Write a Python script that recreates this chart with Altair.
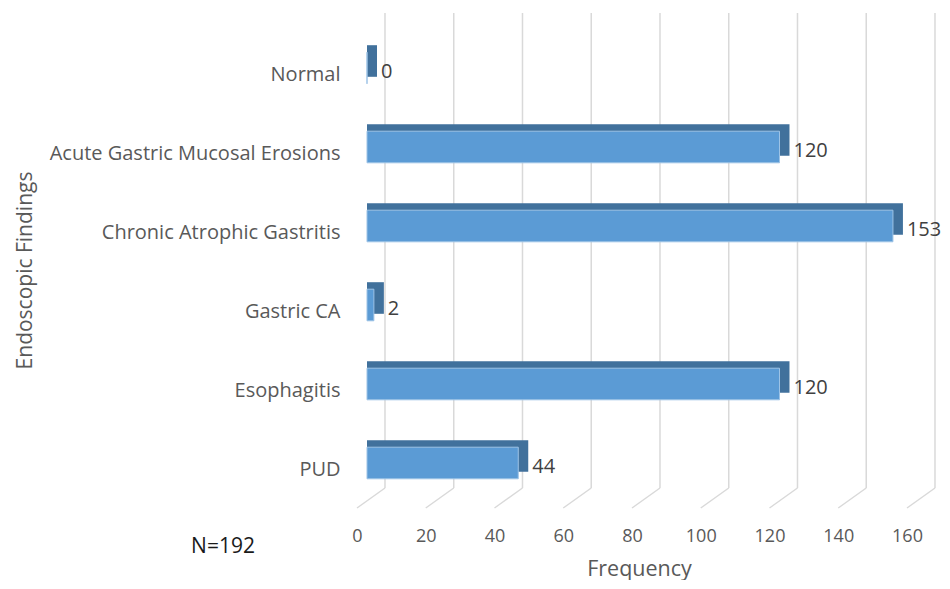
import altair as alt
import pandas as pd

categories = ["Normal", "Acute Gastric Mucosal Erosions", "Chronic Atrophic Gastritis",
              "Gastric CA", "Esophagitis", "PUD"]
values = [0, 120, 153, 2, 120, 44]
ticks = [0, 20, 40, 60, 80, 100, 120, 140, 160]

PX_PER_UNIT = 3.44
DEPTH = 10 / PX_PER_UNIT      # bar extrusion depth in data units
BACK = 18 / PX_PER_UNIT       # back wall offset
FRONT = -10 / PX_PER_UNIT     # front floor offset

df = pd.DataFrame({"cat": categories, "val": values})
df["back_end"] = df["val"] + DEPTH
grid = pd.DataFrame({"t": ticks})
grid["back"] = grid["t"] + BACK
grid["front"] = grid["t"] + FRONT

FONT = "Open Sans"
W, H = 550, 497

xscale = alt.Scale(domain=[0, 160], nice=False)
yscale = alt.Scale(domain=categories, range=[22.5, 496.5], paddingInner=0.6, paddingOuter=0.3)

gridv = alt.Chart(grid).mark_rule(color="#D9D9D9", strokeWidth=1.5).encode(
    x=alt.X("back:Q", scale=xscale),
    y=alt.value(0), y2=alt.value(475),
)
gridd = alt.Chart(grid).mark_rule(color="#D9D9D9", strokeWidth=1.5).encode(
    x=alt.X("front:Q", scale=xscale),
    x2="back:Q",
    y=alt.value(495), y2=alt.value(475),
)

back = alt.Chart(df).mark_bar(color="#41719C", yOffset=-14, y2Offset=-14).encode(
    x=alt.X("back_end:Q", scale=xscale),
    x2=alt.datum(0),
    y=alt.Y("cat:N", scale=yscale, sort=categories),
)
front = alt.Chart(df).mark_bar(color="#5B9BD5", stroke="#9DC3E6", strokeWidth=1,
                               yOffset=-7, y2Offset=-7).encode(
    x=alt.X("val:Q", scale=xscale,
            axis=alt.Axis(values=ticks, domain=False, ticks=False, grid=False,
                          labelFont=FONT, labelFontSize=18, labelColor="#595959",
                          labelPadding=17, labelOffset=-10, labelFlush=False,
                          title="Frequency", titleFont=FONT, titleFontSize=21.5,
                          titleFontWeight="normal", titleColor="#595959",
                          titlePadding=13, titleX=272)),
    y=alt.Y("cat:N", scale=yscale, sort=categories,
            axis=alt.Axis(domain=False, ticks=False, grid=False,
                          labelFont=FONT, labelFontSize=20, labelColor="#595959",
                          labelPadding=27, labelLimit=400,
                          title="Endoscopic Findings", titleFont=FONT, titleFontSize=21,
                          titleFontWeight="normal", titleColor="#595959",
                          titleX=-332, titleY=257, titleAngle=270, titleBaseline="bottom")),
)
labels = alt.Chart(df).mark_text(align="left", baseline="middle", dx=4, dy=-3,
                                 font=FONT, fontSize=20, color="#404040").encode(
    x=alt.X("back_end:Q", scale=xscale),
    y=alt.Y("cat:N", scale=yscale, sort=categories),
    text="val:Q",
)
note = alt.Chart(pd.DataFrame({"t": ["N=192"]})).mark_text(
    align="center", baseline="middle", font=FONT, fontSize=21, color="#1a1a1a"
).encode(x=alt.value(-144), y=alt.value(534), text="t:N")

chart = alt.layer(gridv, gridd, back, front, labels, note).properties(
    width=W, height=H,
    background="white",
    autosize=alt.AutoSizeParams(type="none"),
    padding={"left": 359, "top": 5, "right": 25, "bottom": 70},
).configure_view(stroke=None)

chart.save("out.html", embed_options={"renderer": "svg", "actions": False})
